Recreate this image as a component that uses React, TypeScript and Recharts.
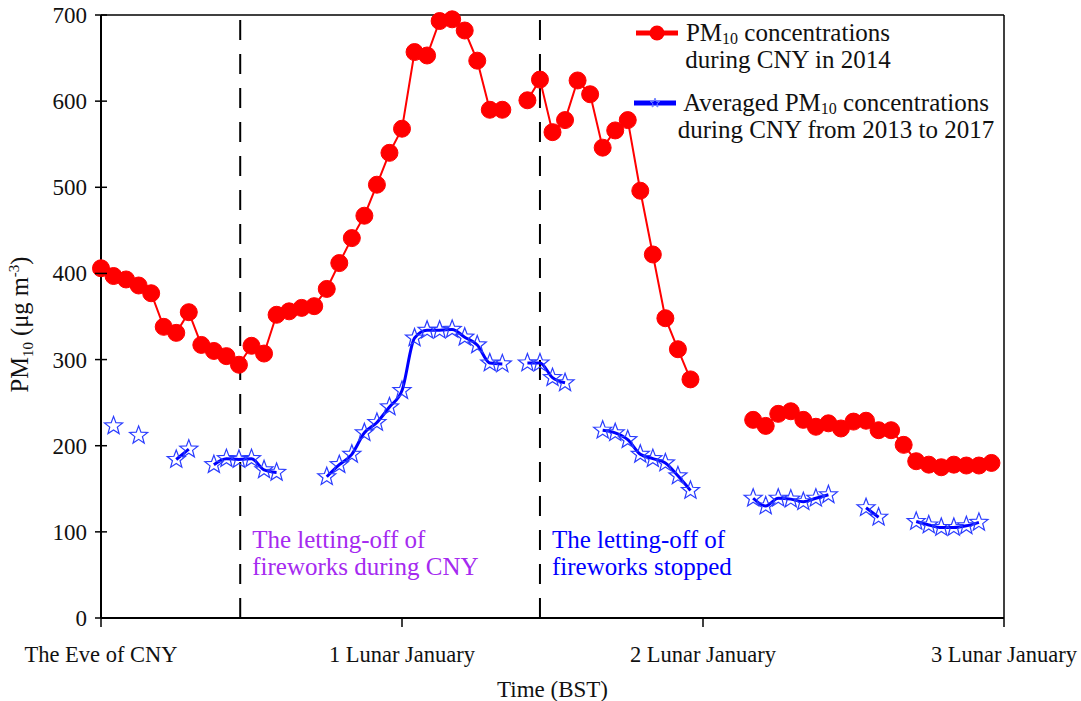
import React from "react";
import { LineChart, Line, XAxis, YAxis, ReferenceLine, Label } from "recharts";

// hourly PM10, hour 0 = the eve of CNY (null = no data)
const pm2014: (number | null)[] = [
  406, 397, 393, 386, 377, 338, 331, 355, 317, 310, 304, 294,
  316, 307, 352, 356, 360, 362, 382, 412, 441, 467, 503, 540,
  568, 657, 653, 693, 695, 682, 647, 590, 590, null, 601, 625,
  564, 578, 624, 608, 546, 566, 578, 496, 422, 348, 312, 277,
  null, null, null, null, 230, 223, 237, 240, 230, 222, 226, 220,
  228, 229, 218, 218, 201, 182, 178, 175, 178, 177, 177, 180,
];

const pmAvg: (number | null)[] = [
  null, 223, null, 212, null, null, 184, 196, null, 178, 185, 184,
  185, 172, 169, null, null, null, 164, 178, 190, 215, 227, 245,
  264, 325, 334, 334, 335, 326, 317, 296, 295, null, 296, 296,
  279, 273, null, null, 218, 215, 207, 190, 185, 180, 165, 148,
  null, null, null, null, 139, 130, 139, 138, 135, 139, 143, null,
  null, 128, 117, null, null, 112, 108, 105, 105, 107, 111, null,
];

const xTicks = [0, 24, 48, 72];
const xTickLabels = ["The Eve of CNY", "1 Lunar January", "2 Lunar January", "3 Lunar January"];
const yTicks = [0, 100, 200, 300, 400, 500, 600, 700];
const fireworksStart = 11.1;
const fireworksStop = 35;

const FONT = "'Liberation Serif', 'Times New Roman', serif";
const RED = "#ff0000";
const BLUE = "#0000ff";
const PURPLE = "#a52af0";

const data = pm2014.map((v, i) => ({ hour: i, pm2014: v, avg: pmAvg[i] }));

const starPoints = (cx: number, cy: number, r: number) => {
  const pts: string[] = [];
  for (let k = 0; k < 10; k++) {
    const rr = k % 2 === 0 ? r : r * 0.42;
    const a = -Math.PI / 2 + (k * Math.PI) / 5;
    pts.push(`${cx + rr * Math.cos(a)},${cy + rr * Math.sin(a)}`);
  }
  return pts.join(" ");
};

const StarDot = (props: any) => {
  const { cx, cy, value, index } = props;
  if (value == null || cx == null || cy == null) return <g key={`s${index}`} />;
  return (
    <polygon
      key={`s${index}`}
      points={starPoints(cx, cy, 9.5)}
      fill="none"
      stroke="#2a3cff"
      strokeWidth={1.2}
    />
  );
};

const YTick = (props: any) => {
  const { x, y, payload } = props;
  return (
    <g>
      <line x1={x - 6} x2={x + 6} y1={y} y2={y} stroke="#000" strokeWidth={1.5} />
      <text x={x - 14} y={y} dy="0.35em" textAnchor="end" fontSize={23} fontFamily={FONT} fill="#111">
        {payload.value}
      </text>
    </g>
  );
};

const YTitle = (props: any) => {
  const { viewBox } = props;
  const cx = 28;
  const cy = viewBox.y + viewBox.height / 2 + 8;
  return (
    <text transform={`translate(${cx},${cy}) rotate(-90)`} textAnchor="middle" fontSize={24.5} fontFamily={FONT} fill="#111">
      PM
      <tspan fontSize={15} dy={5}>10</tspan>
      <tspan dy={-5}> (μg m</tspan>
      <tspan fontSize={15} dy={-9}>-3</tspan>
      <tspan dy={9}>)</tspan>
    </text>
  );
};

const note = (lines: string[], color: string) => (props: any) => {
  const { viewBox } = props;
  const x = viewBox.x + 12;
  return (
    <text x={x} y={viewBox.y + 533} fontSize={25} fontFamily={FONT} fill={color}>
      <tspan x={x} dy={0}>{lines[0]}</tspan>
      <tspan x={x} dy={27}>{lines[1]}</tspan>
    </text>
  );
};

// legend text with a PM10 subscript
const LegendLine = ({ x, y, pre, post }: { x: number; y: number; pre: string; post?: string }) => (
  <text x={x} y={y} textAnchor="middle" fontSize={25} fontFamily={FONT} fill="#111">
    {pre}
    {post != null && (
      <>
        <tspan fontSize={16} dy={3}>10</tspan>
        <tspan dy={-3}>{post}</tspan>
      </>
    )}
  </text>
);

const App = () => (
  <div style={{ position: "absolute", left: 0, top: 0, width: 1081, height: 701, background: "#fff" }}>
    <LineChart width={1081} height={701} data={data} margin={{ top: 15, right: 77, bottom: 0, left: 41 }}>
      <XAxis
        dataKey="hour"
        type="number"
        domain={[0, 72]}
        ticks={xTicks}
        interval={0}
        tickFormatter={(v: number) => xTickLabels[xTicks.indexOf(v)]}
        height={83}
        tickSize={9}
        tickMargin={19}
        axisLine={{ stroke: "#000", strokeWidth: 2 }}
        tickLine={{ stroke: "#000", strokeWidth: 1.5 }}
        tick={{ fontSize: 22.5, fill: "#111", fontFamily: FONT }}
      >
        <Label value="Time (BST)" position="insideBottom" offset={4} fontSize={23} fontFamily={FONT} fill="#111" />
      </XAxis>
      <YAxis
        type="number"
        domain={[0, 700]}
        ticks={yTicks}
        interval={0}
        width={60}
        tickSize={0}
        tickMargin={0}
        tickLine={false}
        axisLine={{ stroke: "#000", strokeWidth: 2 }}
        tick={<YTick />}
      >
        <Label content={<YTitle />} />
      </YAxis>

      {/* frame */}
      <ReferenceLine y={700} stroke="#000" strokeWidth={1.5} />
      <ReferenceLine x={72} stroke="#000" strokeWidth={1.5} />

      {/* fireworks markers */}
      <ReferenceLine
        x={fireworksStart}
        stroke="#000"
        strokeWidth={2}
        strokeDasharray="20 14"
        label={{ content: note(["The letting-off of", "fireworks during CNY"], PURPLE) }}
      />
      <ReferenceLine
        x={fireworksStop}
        stroke="#000"
        strokeWidth={2}
        strokeDasharray="20 14"
        label={{ content: note(["The letting-off of", "fireworks stopped"], BLUE) }}
      />

      <Line
        type="linear"
        dataKey="pm2014"
        stroke={RED}
        strokeWidth={2}
        dot={{ r: 8.5, fill: RED, stroke: RED, strokeWidth: 1 }}
        activeDot={false}
        isAnimationActive={false}
      />
      <Line
        type="monotone"
        dataKey="avg"
        stroke={BLUE}
        strokeWidth={3}
        dot={<StarDot />}
        activeDot={false}
        isAnimationActive={false}
      />
    </LineChart>

    {/* legend */}
    <svg style={{ position: "absolute", left: 630, top: 14 }} width={380} height={130}>
      <line x1={6} x2={48} y1={19} y2={19} stroke={RED} strokeWidth={5} />
      <circle cx={27} cy={19} r={7.5} fill={RED} />
      <line x1={4} x2={46} y1={89} y2={89} stroke={BLUE} strokeWidth={5} />
      <polygon points={starPoints(25, 89, 5)} fill="none" stroke="#6a7cff" strokeWidth={1} />
      <LegendLine x={158} y={27} pre="PM" post=" concentrations" />
      <LegendLine x={158} y={54} pre="during CNY in 2014" />
      <LegendLine x={206} y={97} pre="Averaged PM" post=" concentrations" />
      <LegendLine x={206} y={124} pre="during CNY from 2013 to 2017" />
    </svg>
  </div>
);

export default App;
